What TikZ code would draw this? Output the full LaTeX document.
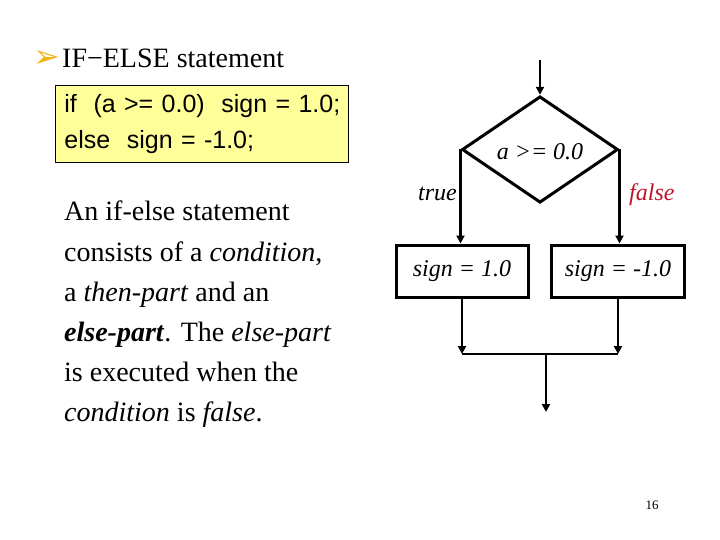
\documentclass[tikz,border=0pt]{standalone}
\usepackage{fontspec}
\setmainfont{Liberation Serif}
\setsansfont{Liberation Sans}
\newfontfamily\symfont{DejaVu Sans}
\usepackage{xcolor}
\definecolor{codeyellow}{RGB}{255, 255, 153}
\definecolor{bulletgold}{RGB}{240, 180, 20}
\definecolor{falsered}{RGB}{190, 20, 40}
\usetikzlibrary{
  arrows.meta,
  positioning,
  shapes.geometric
}

\begin{document}
\begin{tikzpicture}[
  x=1pt, y=-1pt,
  flow/.style={
    line width=2.3pt,
    -{Triangle[length=8pt, width=8pt]}
  },
  wire/.style={line width=2.3pt},
  test/.style={
    draw, line width=3pt, diamond,
    minimum width=156pt, minimum height=96pt,
    inner sep=0pt, text height=20pt, text depth=0pt,
    font=\fontsize{24}{28}\selectfont\itshape
  },
  action/.style={
    draw, line width=3pt,
    minimum height=52pt, inner sep=0pt,
    font=\fontsize{24}{28}\selectfont\itshape
  },
  branch/.style={
    font=\fontsize{24}{28}\selectfont\itshape, inner sep=0pt
  }
]
\useasboundingbox (0,0) rectangle (720,540);

% heading and code
\node[anchor=base west, inner sep=0pt, text=bulletgold,
  font=\symfont\fontsize{32}{36}\selectfont] (bullet) at (33,68) {➢};
\node[anchor=base west, inner sep=0pt,
  font=\fontsize{28}{32}\selectfont] (heading) at (62,68) {IF−ELSE statement};
\node[draw, line width=0.8pt, fill=codeyellow, anchor=north west,
  minimum width=293pt, minimum height=77pt, text width=275pt,
  inner xsep=9pt, align=left,
  font=\sffamily\fontsize{25}{36}\selectfont] (code) at (55,85)
  {\mbox{if~~(a >= 0.0)~~sign = 1.0;}\\\mbox{else~~sign = -1.0;}};

% explanation
\node[anchor=north west, inner sep=0pt, align=left,
  font=\fontsize{28}{40.2}\selectfont] (explain) at (64,201)
  {An if-else statement\\
   consists of a \textit{condition},\\
   a \textit{then-part} and an\\
   \textbf{\textit{else-part}}. The \textit{else-part}\\
   is executed when the\\
   \textit{condition} is \textit{false}.};

% flowchart
\coordinate (entry) at (540,60);
\node[test] (cond) at (540,149.5) {a >= 0.0};
\node[action, minimum width=132pt] (yes) at (462,271) {sign = 1.0};
\node[action, minimum width=133pt] (no) at (618,271) {sign = -1.0};
\coordinate (joinL) at (462,354);
\coordinate (joinR) at (618,354);
\coordinate (joinM) at (546,354);
\coordinate (exit) at (546,412);

\draw[flow] (entry) -- (cond.north);
\draw[flow] (cond.west) -- (yes.north -| cond.west);
\draw[flow] (cond.east) -- (no.north -| cond.east);
\draw[flow] (yes.south) -- (joinL);
\draw[flow] (no.south) -- (joinR);
\draw[wire] (joinL) -- (joinR);
\draw[flow] (joinM) -- (exit);

\node[branch, anchor=base east] (truelbl) at (457,201) {true};
\node[branch, anchor=base west, text=falsered] (falselbl) at (629,201) {false};

\node[anchor=base, font=\fontsize{13}{15}\selectfont] (page) at (652,509) {16};
\end{tikzpicture}
\end{document}
